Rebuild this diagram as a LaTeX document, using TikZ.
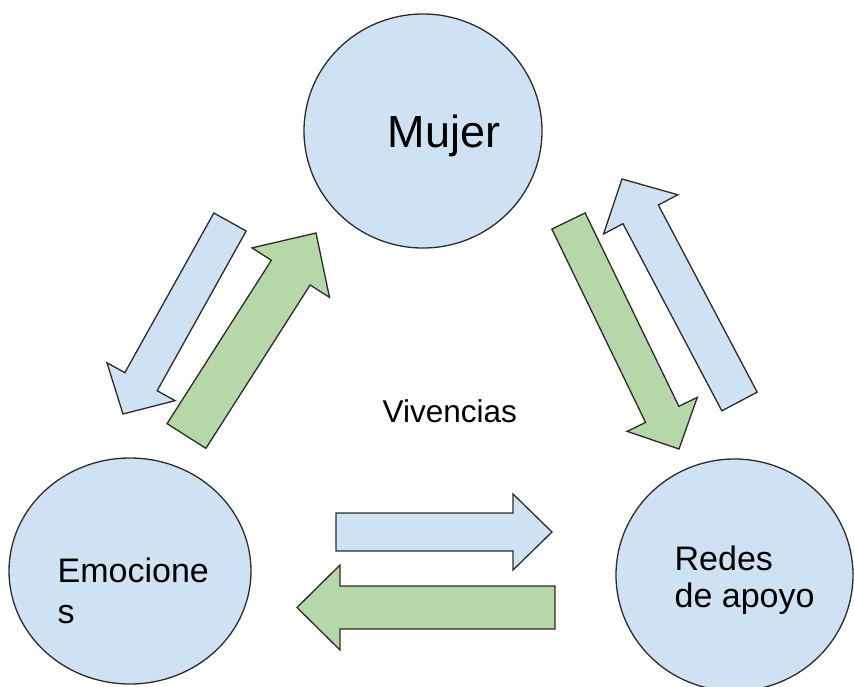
\documentclass[tikz,border=0pt]{standalone}
\usepackage{fontspec}
\setmainfont{Liberation Sans}
\usetikzlibrary{calc,shapes.geometric}

\definecolor{bluefill}{HTML}{CFE2F3}
\definecolor{greenfill}{HTML}{B6D7A8}
\definecolor{edgegray}{HTML}{2B2B2B}

% block arrow: style, tail, tip, shaft half width, head half width, head length
\newcommand{\blockarrow}[6]{%
  \coordinate (hb) at ($(#3)!#6!(#2)$);
  \draw [#1] ($(#2)!#4!90:(#3)$) -- ($(hb)!#4!90:(#3)$) -- ($(hb)!#5!90:(#3)$)
    -- (#3) -- ($(hb)!#5!-90:(#3)$) -- ($(hb)!#4!-90:(#3)$) -- ($(#2)!#4!-90:(#3)$) -- cycle;
}

\begin{document}
\begin{tikzpicture}[x=1pt,y=-1pt,line width=1.3pt,
    bubble/.style={ellipse,draw=edgegray,fill=bluefill,inner sep=0pt},
    bluearrow/.style={draw=edgegray,fill=bluefill},
    greenarrow/.style={draw=edgegray,fill=greenfill},
    label/.style={inner sep=0pt,anchor=base west}]
    \useasboundingbox (0,0) rectangle (854,686);

    % circles
    \node [bubble,minimum width=238pt,minimum height=234pt] (mujer) at (423,131) {};
    \node [bubble,minimum width=242pt,minimum height=226pt] (emociones) at (130,571) {};
    \node [bubble,minimum width=237pt,minimum height=232pt] (redes) at (734.5,575) {};

    % texts (base of a two-line node is its last line)
    \node [label,font=\fontsize{45}{54}\selectfont] (mujertxt) at (387,147) {Mujer};
    \node [label,font=\fontsize{34}{41}\selectfont,align=left] (emotxt) at (57,623) {Emocione\\s};
    \node [label,font=\fontsize{34}{37}\selectfont,align=left] (redestxt) at (674,607) {Redes\\de apoyo};
    \node [label,font=\fontsize{31.5}{38}\selectfont] (vivtxt) at (382,422) {Vivencias};

    % arrow ends
    \coordinate (ml1) at (230,222);   \coordinate (ml2) at (123,414);
    \coordinate (em1) at (186.5,436); \coordinate (em2) at (316,233);
    \coordinate (mr1) at (568.5,221); \coordinate (mr2) at (679,449);
    \coordinate (rm1) at (739.5,401.5); \coordinate (rm2) at (622,179);
    \coordinate (er1) at (336,532);   \coordinate (er2) at (552,532);
    \coordinate (re1) at (555,607.5); \coordinate (re2) at (297,607.5);

    % arrows
    \blockarrow{bluearrow}{ml1}{ml2}{18.5pt}{39pt}{37pt}
    \blockarrow{greenarrow}{em1}{em2}{23pt}{46pt}{47pt}
    \blockarrow{greenarrow}{mr1}{mr2}{18.5pt}{39pt}{38.5pt}
    \blockarrow{bluearrow}{rm1}{rm2}{20pt}{42pt}{40pt}
    \blockarrow{bluearrow}{er1}{er2}{19pt}{38pt}{39pt}
    \blockarrow{greenarrow}{re1}{re2}{21.5pt}{42.5pt}{43pt}
\end{tikzpicture}
\end{document}
